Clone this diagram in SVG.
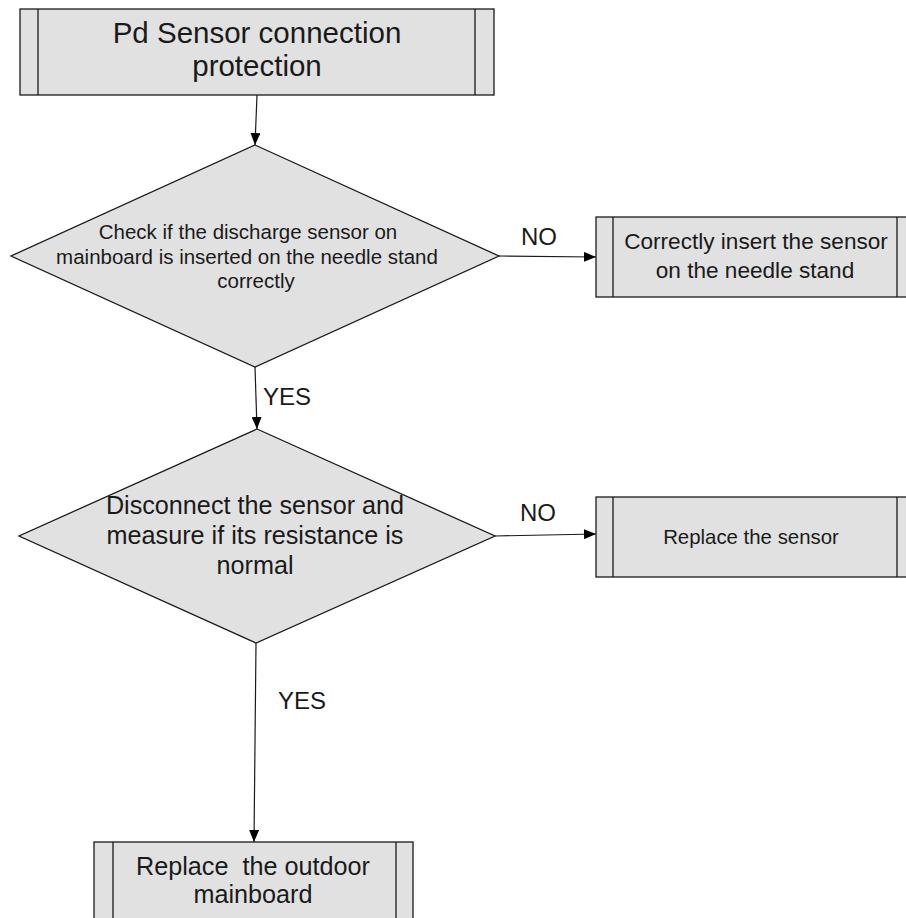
<svg xmlns="http://www.w3.org/2000/svg" width="906" height="918" viewBox="0 0 906 918">
<style>
.shape{fill:#e1e1e1;stroke:#1a1a1a;stroke-width:1.3}
.inner{stroke:#1a1a1a;stroke-width:1.3;fill:none}
.conn{stroke:#1a1a1a;stroke-width:1.2;fill:none;marker-end:url(#arr)}
text{font-family:"Liberation Sans",Arial,sans-serif;fill:#1a1a1a;text-anchor:middle;white-space:pre}
.lbl{text-anchor:start;font-size:24px}
</style>
<defs>
<marker id="arr" viewBox="0 0 12 10" refX="12" refY="5" markerWidth="12" markerHeight="10" markerUnits="userSpaceOnUse" orient="auto">
<path d="M0,0 L12,5 L0,10 Z" fill="#000"/>
</marker>
</defs>
<rect width="906" height="918" fill="#fff"/>
<g id="connectors">
<line class="conn" x1="257" y1="95" x2="255" y2="145"/>
<line class="conn" x1="499" y1="256" x2="596" y2="257"/>
<line class="conn" x1="255" y1="367" x2="257" y2="429"/>
<line class="conn" x1="495" y1="536" x2="596" y2="534"/>
<line class="conn" x1="256" y1="643" x2="254" y2="842"/>
<text class="lbl" x="521" y="245">NO</text>
<text class="lbl" x="263" y="405">YES</text>
<text class="lbl" x="520" y="521">NO</text>
<text class="lbl" x="278" y="709">YES</text>
</g>
<g id="start">
<rect class="shape" x="20" y="9" width="474" height="86"/>
<line class="inner" x1="38" y1="9" x2="38" y2="95"/>
<line class="inner" x1="475" y1="9" x2="475" y2="95"/>
<text x="257" y="43" font-size="29.5">Pd Sensor connection</text>
<text x="257" y="76" font-size="29.5">protection</text>
</g>
<g id="check1">
<polygon class="shape" points="255,145 499,256 255,367 11,256"/>
<text x="248" y="239" font-size="20.5">Check if the discharge sensor on</text>
<text x="247" y="264" font-size="20.5">mainboard is inserted on the needle stand</text>
<text x="256" y="288" font-size="20.5">correctly</text>
</g>
<g id="fix1">
<rect class="shape" x="596" y="217" width="318" height="80"/>
<line class="inner" x1="613" y1="217" x2="613" y2="297"/>
<line class="inner" x1="897" y1="217" x2="897" y2="297"/>
<text x="756" y="249" font-size="22.6">Correctly insert the sensor</text>
<text x="755" y="278" font-size="22.6">on the needle stand</text>
</g>
<g id="check2">
<polygon class="shape" points="257,429 495,536 256,643 19,536"/>
<text x="255" y="514" font-size="25.2">Disconnect the sensor and</text>
<text x="255" y="544" font-size="25.2">measure if its resistance is</text>
<text x="255" y="574" font-size="25.2">normal</text>
</g>
<g id="fix2">
<rect class="shape" x="596" y="497" width="318" height="80"/>
<line class="inner" x1="613" y1="497" x2="613" y2="577"/>
<line class="inner" x1="897" y1="497" x2="897" y2="577"/>
<text x="751" y="544" font-size="20.4">Replace the sensor</text>
</g>
<g id="fix3">
<rect class="shape" x="94" y="842" width="319" height="90"/>
<line class="inner" x1="113" y1="842" x2="113" y2="932"/>
<line class="inner" x1="396" y1="842" x2="396" y2="932"/>
<text x="253" y="875" font-size="25.2">Replace  the outdoor</text>
<text x="253" y="903" font-size="25.2">mainboard</text>
</g>
</svg>
